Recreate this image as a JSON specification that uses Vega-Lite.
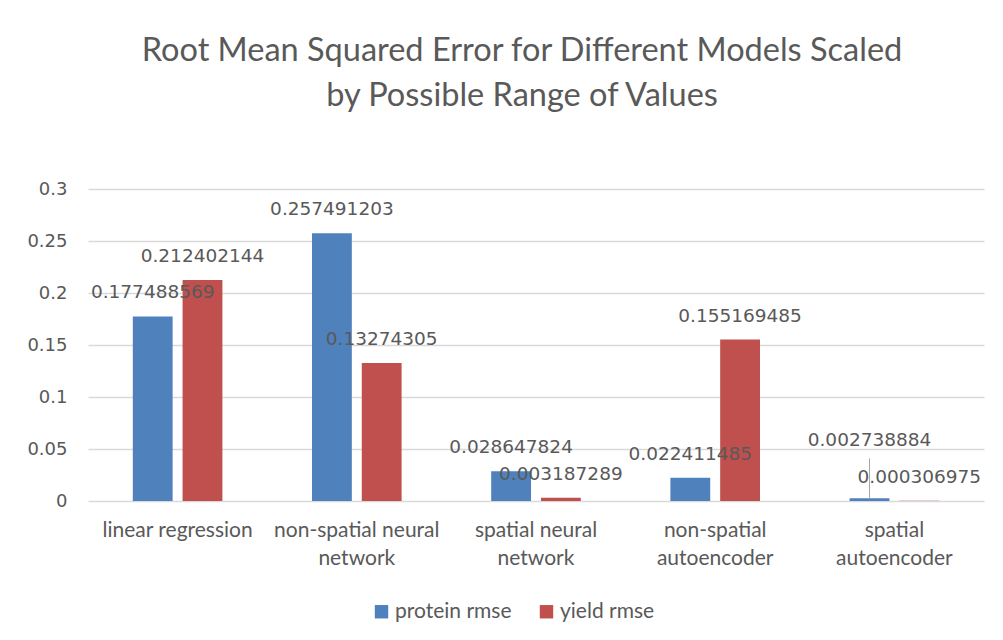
{
  "$schema": "https://vega.github.io/schema/vega-lite/v6.json",
  "width": 896,
  "height": 312,
  "autosize": {"type": "none"},
  "padding": {"left": 88, "top": 189, "right": 19, "bottom": 139},
  "background": "white",
  "title": {
    "text": ["Root Mean Squared Error for Different Models Scaled", "by Possible Range of Values"],
    "font": "Lato",
    "fontSize": 32.5,
    "fontWeight": "normal",
    "color": "#595959",
    "lineHeight": 45,
    "offset": 68,
    "anchor": "middle",
    "dx": -14
  },
  "data": {
    "values": [
      {"model": "linear regression", "series": "protein rmse", "value": 0.177488569},
      {"model": "linear regression", "series": "yield rmse", "value": 0.212402144},
      {"model": "non-spatial neural network", "series": "protein rmse", "value": 0.257491203},
      {"model": "non-spatial neural network", "series": "yield rmse", "value": 0.13274305},
      {"model": "spatial neural network", "series": "protein rmse", "value": 0.028647824},
      {"model": "spatial neural network", "series": "yield rmse", "value": 0.003187289},
      {"model": "non-spatial autoencoder", "series": "protein rmse", "value": 0.022411485},
      {"model": "non-spatial autoencoder", "series": "yield rmse", "value": 0.155169485},
      {"model": "spatial autoencoder", "series": "protein rmse", "value": 0.002738884},
      {"model": "spatial autoencoder", "series": "yield rmse", "value": 0.000306975}
    ]
  },
  "encoding": {
    "x": {
      "field": "model",
      "type": "nominal",
      "sort": null,
      "scale": {"paddingInner": 0, "paddingOuter": 0},
      "axis": {
        "title": null,
        "labelAngle": 0,
        "ticks": false,
        "domain": false,
        "labelFont": "Lato",
        "labelFontSize": 21,
        "labelColor": "#595959",
        "labelPadding": 18,
        "labelBaseline": "top",
        "labelLineHeight": 28,
        "labelLimit": 300,
        "labelExpr": "datum.value == 'non-spatial neural network' ? ['non-spatial neural', 'network'] : datum.value == 'spatial neural network' ? ['spatial neural', 'network'] : datum.value == 'non-spatial autoencoder' ? ['non-spatial', 'autoencoder'] : datum.value == 'spatial autoencoder' ? ['spatial', 'autoencoder'] : datum.value"
      }
    },
    "xOffset": {
      "field": "series",
      "type": "nominal",
      "scale": {"paddingInner": 0.2, "paddingOuter": 0.9}
    },
    "y": {
      "field": "value",
      "type": "quantitative",
      "scale": {"domain": [0, 0.3], "nice": false},
      "axis": {
        "title": null,
        "values": [0, 0.05, 0.1, 0.15, 0.2, 0.25, 0.3],
        "format": "~g",
        "ticks": false,
        "domain": false,
        "gridColor": "#d9d9d9",
        "gridWidth": 1.5,
        "labelFont": "DejaVu Sans",
        "labelFontSize": 18,
        "labelColor": "#595959",
        "labelPadding": 21
      }
    }
  },
  "layer": [
    {
      "mark": {"type": "bar"},
      "encoding": {
        "color": {
          "field": "series",
          "type": "nominal",
          "scale": {"domain": ["protein rmse", "yield rmse"], "range": ["#4f81bd", "#c0504d"]},
          "legend": {
            "title": null,
            "orient": "none",
            "direction": "horizontal",
            "legendX": 283,
            "legendY": 412,
            "symbolType": "square",
            "symbolSize": 180,
            "symbolStrokeWidth": 0,
            "labelFont": "Lato",
            "labelFontSize": 21,
            "labelColor": "#595959",
            "labelOffset": 3,
            "columnPadding": 24
          }
        }
      }
    },
    {
      "transform": [{"filter": "!(datum.model == 'spatial autoencoder' && datum.series == 'protein rmse')"}],
      "mark": {"type": "text", "font": "DejaVu Sans", "fontSize": 18.5, "color": "#595959", "baseline": "middle", "dy": -24},
      "encoding": {"text": {"field": "value", "type": "quantitative", "format": ".9~f"}}
    },
    {
      "transform": [{"filter": "datum.model == 'spatial autoencoder' && datum.series == 'protein rmse'"}],
      "mark": {"type": "rule", "color": "#a6a6a6", "strokeWidth": 1},
      "encoding": {"y2": {"datum": 0.041}}
    },
    {
      "transform": [{"filter": "datum.model == 'spatial autoencoder' && datum.series == 'protein rmse'"}],
      "mark": {"type": "text", "font": "DejaVu Sans", "fontSize": 18.5, "color": "#595959", "baseline": "middle", "dy": -58},
      "encoding": {"text": {"field": "value", "type": "quantitative", "format": ".9~f"}}
    }
  ],
  "config": {"view": {"stroke": null}}
}
